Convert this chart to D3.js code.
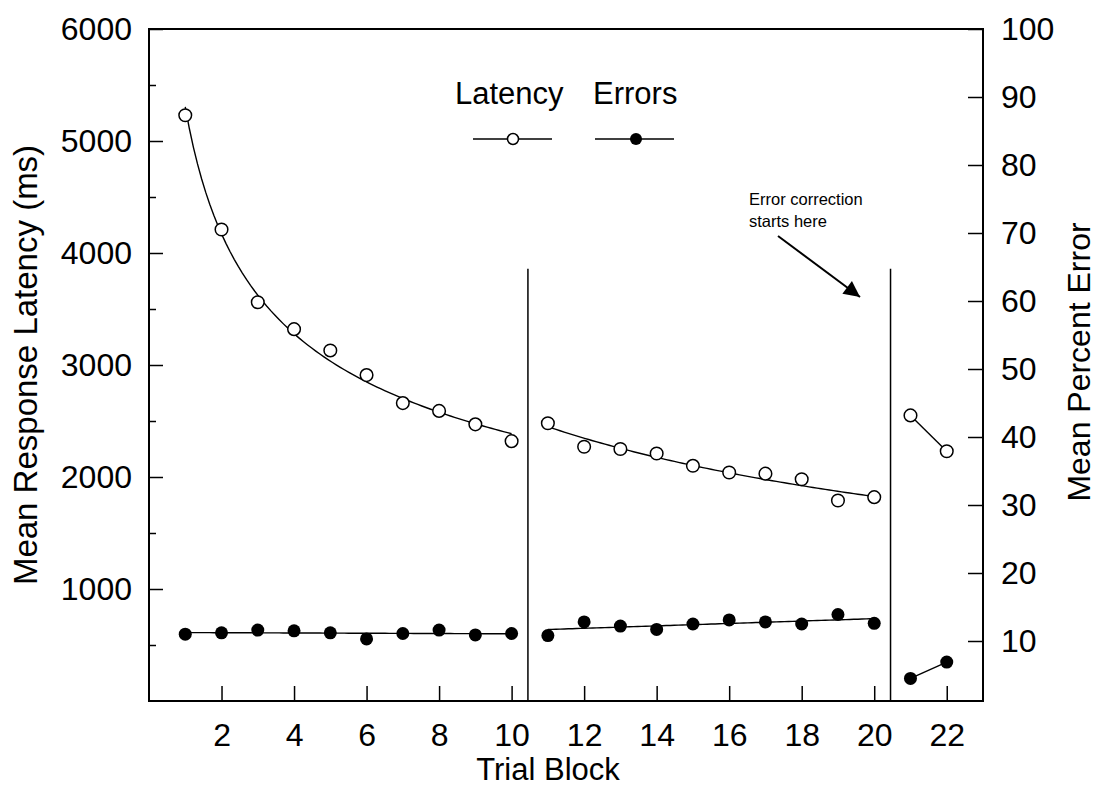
<!DOCTYPE html>
<html>
<head>
<meta charset="utf-8">
<script src="https://cdn.jsdelivr.net/npm/d3@7"></script>
<style>
  body { margin: 0; background: #fff; }
  svg { display: block; font-family: "Liberation Sans", Arial, sans-serif; }
</style>
</head>
<body>
<div id="chart"></div>
<script>
// trial blocks, split in the three phases
var trialsA = [1, 2, 3, 4, 5, 6, 7, 8, 9, 10];
var trialsB = [11, 12, 13, 14, 15, 16, 17, 18, 19, 20];
var trialsC = [21, 22];

// mean response latency (ms)
var latencyA = [5230, 4210, 3560, 3320, 3130, 2910, 2660, 2590, 2470, 2320];
var latencyB = [2480, 2270, 2250, 2210, 2100, 2040, 2030, 1980, 1790, 1820];
var latencyC = [2550, 2230];

// mean percent error
var errorsA = [11.0, 11.2, 11.6, 11.5, 11.2, 10.3, 11.1, 11.6, 10.9, 11.1];
var errorsB = [10.8, 12.8, 12.2, 11.7, 12.5, 13.1, 12.8, 12.5, 13.9, 12.6];
var errorsC = [4.5, 6.9];

var xTicks = [2, 4, 6, 8, 10, 12, 14, 16, 18, 20, 22];
var leftTicks = [1000, 2000, 3000, 4000, 5000, 6000];
var leftMinor = [500, 1500, 2500, 3500, 4500, 5500];
var rightTicks = [10, 20, 30, 40, 50, 60, 70, 80, 90, 100];
var dividers = [10.45, 20.45];
var dividerTop = 3860;

var chart = {
    w: 1097,
    h: 789,
    left: 149,
    right: 983,
    top: 29,
    bottom: 701
};

var svg = d3.select("#chart").append("svg")
    .attr("width", chart.w)
    .attr("height", chart.h);

var x = d3.scaleLinear().domain([0, 23]).range([chart.left, chart.right]);
var yL = d3.scaleLinear().domain([0, 6000]).range([chart.bottom, chart.top]);
var yR = d3.scaleLinear().domain([0, 100]).range([chart.bottom + 8, chart.top]);

// least squares fits: power law for latency, straight line for errors
function powerFit(xs, ys) {
    var lx = xs.map(Math.log), ly = ys.map(Math.log);
    var mx = d3.mean(lx), my = d3.mean(ly);
    var b = d3.sum(lx, function (v, i) { return (v - mx) * (ly[i] - my); }) /
        d3.sum(lx, function (v) { return (v - mx) * (v - mx); });
    var a = Math.exp(my - b * mx);
    return function (t) { return a * Math.pow(t, b); };
}
function linearFit(xs, ys) {
    var mx = d3.mean(xs), my = d3.mean(ys);
    var b = d3.sum(xs, function (v, i) { return (v - mx) * (ys[i] - my); }) /
        d3.sum(xs, function (v) { return (v - mx) * (v - mx); });
    return function (t) { return my + b * (t - mx); };
}
function curve(fn, t0, t1) {
    var pts = [];
    for (var i = 0; i <= 80; i++) {
        var t = t0 + (t1 - t0) * i / 80;
        pts.push([t, fn(t)]);
    }
    return pts;
}

var lineL = d3.line().x(function (d) { return x(d[0]); }).y(function (d) { return yL(d[1]); });
var lineR = d3.line().x(function (d) { return x(d[0]); }).y(function (d) { return yR(d[1]); });

// axes (ticks point inward)
var gLeft = svg.append("g").attr("transform", "translate(" + chart.left + ",0)")
    .call(d3.axisLeft(yL).tickValues(leftTicks).tickSize(-14).tickPadding(17).tickFormat(d3.format("d")));
svg.append("g").attr("transform", "translate(" + chart.left + ",0)")
    .call(d3.axisLeft(yL).tickValues(leftMinor).tickSize(-7).tickFormat(""));
var gRight = svg.append("g").attr("transform", "translate(" + chart.right + ",0)")
    .call(d3.axisRight(yR).tickValues(rightTicks).tickSize(-15).tickPadding(18));
var gBottom = svg.append("g").attr("transform", "translate(0," + chart.bottom + ")")
    .call(d3.axisBottom(x).tickValues(xTicks).tickSize(-15).tickPadding(22));

svg.selectAll(".domain").remove();
svg.selectAll(".tick line").attr("stroke", "#000").attr("stroke-width", 1.5);
[gLeft, gRight, gBottom].forEach(function (g) {
    g.attr("font-family", "'Liberation Sans', Arial, sans-serif").attr("font-size", 32);
    g.selectAll("text").attr("fill", "#000");
});

// frame
svg.append("rect")
    .attr("x", chart.left).attr("y", chart.top)
    .attr("width", chart.right - chart.left).attr("height", chart.bottom - chart.top)
    .attr("fill", "none").attr("stroke", "#000").attr("stroke-width", 2);

// phase dividers
svg.selectAll(".divider").data(dividers).enter().append("line")
    .attr("class", "divider")
    .attr("x1", function (d) { return x(d); }).attr("x2", function (d) { return x(d); })
    .attr("y1", yL(dividerTop)).attr("y2", chart.bottom)
    .attr("stroke", "#000").attr("stroke-width", 1.5);

// fitted lines
var fits = [
    curve(powerFit(trialsA, latencyA), 1, 10),
    curve(powerFit(trialsB, latencyB), 11, 20)
];
svg.selectAll(".fitL").data(fits).enter().append("path")
    .attr("d", lineL).attr("fill", "none").attr("stroke", "#000").attr("stroke-width", 1.4);
svg.append("path")
    .attr("d", lineL(d3.zip(trialsC, latencyC)))
    .attr("fill", "none").attr("stroke", "#000").attr("stroke-width", 1.4);

var errFits = [
    curve(linearFit(trialsA, errorsA), 1, 10),
    curve(linearFit(trialsB, errorsB), 11, 20),
    d3.zip(trialsC, errorsC)
];
svg.selectAll(".fitR").data(errFits).enter().append("path")
    .attr("d", lineR).attr("fill", "none").attr("stroke", "#000").attr("stroke-width", 1.4);

// points
var latPts = d3.zip(trialsA.concat(trialsB, trialsC), latencyA.concat(latencyB, latencyC));
var errPts = d3.zip(trialsA.concat(trialsB, trialsC), errorsA.concat(errorsB, errorsC));

svg.selectAll(".lat").data(latPts).enter().append("circle")
    .attr("cx", function (d) { return x(d[0]); })
    .attr("cy", function (d) { return yL(d[1]); })
    .attr("r", 6.3).attr("fill", "#fff").attr("stroke", "#000").attr("stroke-width", 1.5);
svg.selectAll(".err").data(errPts).enter().append("circle")
    .attr("cx", function (d) { return x(d[0]); })
    .attr("cy", function (d) { return yR(d[1]); })
    .attr("r", 6.5).attr("fill", "#000");

// legend
svg.append("text").attr("x", 455).attr("y", 104).attr("font-size", 31).text("Latency");
svg.append("text").attr("x", 593).attr("y", 104).attr("font-size", 31).text("Errors");
svg.append("line").attr("x1", 473).attr("x2", 552).attr("y1", 139).attr("y2", 139)
    .attr("stroke", "#000").attr("stroke-width", 1.3);
svg.append("circle").attr("cx", 513).attr("cy", 139).attr("r", 5.5)
    .attr("fill", "#fff").attr("stroke", "#000").attr("stroke-width", 1.5);
svg.append("line").attr("x1", 595).attr("x2", 674).attr("y1", 139).attr("y2", 139)
    .attr("stroke", "#000").attr("stroke-width", 1.3);
svg.append("circle").attr("cx", 636).attr("cy", 139).attr("r", 6).attr("fill", "#000");

// annotation
svg.append("text").attr("x", 749).attr("y", 205).attr("font-size", 16.5).text("Error correction");
svg.append("text").attr("x", 749).attr("y", 227).attr("font-size", 16.5).text("starts here");
svg.append("defs").append("marker")
    .attr("id", "head").attr("viewBox", "0 0 10 10")
    .attr("refX", 10).attr("refY", 5)
    .attr("markerWidth", 28).attr("markerHeight", 16)
    .attr("markerUnits", "userSpaceOnUse")
    .attr("orient", "auto")
    .append("path").attr("d", "M0,0L10,5L0,10Z").attr("fill", "#000");
svg.append("line")
    .attr("x1", 778).attr("y1", 236).attr("x2", 860).attr("y2", 297)
    .attr("stroke", "#000").attr("stroke-width", 2)
    .attr("marker-end", "url(#head)");

// axis titles
svg.append("text")
    .attr("transform", "translate(37,365) rotate(-90)")
    .attr("text-anchor", "middle").attr("font-size", 33)
    .text("Mean Response Latency (ms)");
svg.append("text")
    .attr("transform", "translate(1090,362) rotate(-90)")
    .attr("text-anchor", "middle").attr("font-size", 32)
    .text("Mean Percent Error");
svg.append("text")
    .attr("x", 548).attr("y", 780)
    .attr("text-anchor", "middle").attr("font-size", 31)
    .text("Trial Block");
</script>
</body>
</html>
